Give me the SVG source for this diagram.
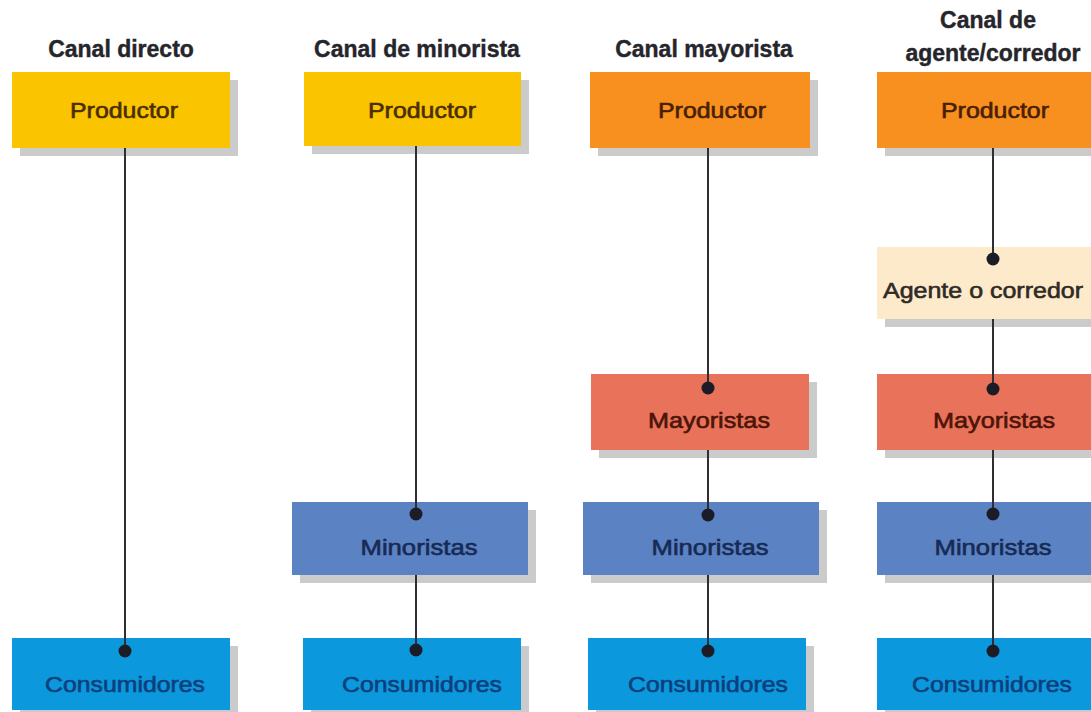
<svg xmlns="http://www.w3.org/2000/svg" width="1091" height="712" viewBox="0 0 1091 712">
  <style>
    .title { font-family: "Liberation Sans", Arial, sans-serif; font-size: 23px; font-weight: bold; fill: #25252b; stroke: #25252b; stroke-width: 0.4; text-anchor: middle; }
    .lbl { font-family: "Liberation Sans", Arial, sans-serif; font-size: 22px; text-anchor: middle; stroke-width: 0.6; }
    .shadow { fill: #cbcbcb; }
    .prodY { fill: #fbc400; }
    .prodO { fill: #f7901e; }
    .agente { fill: #fdeacb; }
    .mayor { fill: #e9735a; }
    .minor { fill: #5b82c2; }
    .cons { fill: #0b98dc; }
    .tProd { fill: #4a2e00; stroke: #4a2e00; }
    .tProdO { fill: #4a1e05; stroke: #4a1e05; }
    .tAg { fill: #2f2a25; stroke: #2f2a25; }
    .tMay { fill: #4d1408; stroke: #4d1408; }
    .tMin { fill: #172a55; stroke: #172a55; }
    .tCon { fill: #0c3f7c; stroke: #0c3f7c; }
    .conn line { stroke: #2e2e33; stroke-width: 2; }
    .conn circle { fill: #1c1c26; }
  </style>
  <rect width="1091" height="712" fill="#ffffff"/>

  <g id="titles">
    <text class="title" x="121" y="57">Canal directo</text>
    <text class="title" x="417" y="57">Canal de minorista</text>
    <text class="title" x="704" y="57">Canal mayorista</text>
    <text class="title" x="988" y="28">Canal de</text>
    <text class="title" x="993" y="61">agente/corredor</text>
  </g>

  <!-- Column 1 -->
  <g id="c1-productor">
    <rect class="shadow" x="20" y="80" width="218" height="76"/>
    <rect class="prodY" x="12" y="72" width="218" height="76"/>
    <text class="lbl tProd" x="124" y="118" textLength="108" lengthAdjust="spacingAndGlyphs">Productor</text>
  </g>
  <g id="c1-consumidores">
    <rect class="shadow" x="20" y="646" width="218" height="72"/>
    <rect class="cons" x="12" y="638" width="218" height="72"/>
    <text class="lbl tCon" x="125" y="692" textLength="160" lengthAdjust="spacingAndGlyphs">Consumidores</text>
  </g>

  <!-- Column 2 -->
  <g id="c2-productor">
    <rect class="shadow" x="312" y="80" width="217" height="74"/>
    <rect class="prodY" x="304" y="72" width="217" height="74"/>
    <text class="lbl tProd" x="422" y="118" textLength="108" lengthAdjust="spacingAndGlyphs">Productor</text>
  </g>
  <g id="c2-minoristas">
    <rect class="shadow" x="300" y="510" width="236" height="73"/>
    <rect class="minor" x="292" y="502" width="236" height="73"/>
    <text class="lbl tMin" x="419" y="555" textLength="117" lengthAdjust="spacingAndGlyphs">Minoristas</text>
  </g>
  <g id="c2-consumidores">
    <rect class="shadow" x="311" y="646" width="218" height="72"/>
    <rect class="cons" x="303" y="638" width="218" height="72"/>
    <text class="lbl tCon" x="422" y="692" textLength="160" lengthAdjust="spacingAndGlyphs">Consumidores</text>
  </g>

  <!-- Column 3 -->
  <g id="c3-productor">
    <rect class="shadow" x="598" y="80" width="220" height="76"/>
    <rect class="prodO" x="590" y="72" width="220" height="76"/>
    <text class="lbl tProdO" x="712" y="118" textLength="108" lengthAdjust="spacingAndGlyphs">Productor</text>
  </g>
  <g id="c3-mayoristas">
    <rect class="shadow" x="599" y="382" width="218" height="76"/>
    <rect class="mayor" x="591" y="374" width="218" height="76"/>
    <text class="lbl tMay" x="709" y="428" textLength="122" lengthAdjust="spacingAndGlyphs">Mayoristas</text>
  </g>
  <g id="c3-minoristas">
    <rect class="shadow" x="591" y="510" width="236" height="73"/>
    <rect class="minor" x="583" y="502" width="236" height="73"/>
    <text class="lbl tMin" x="710" y="555" textLength="117" lengthAdjust="spacingAndGlyphs">Minoristas</text>
  </g>
  <g id="c3-consumidores">
    <rect class="shadow" x="596" y="646" width="218" height="72"/>
    <rect class="cons" x="588" y="638" width="218" height="72"/>
    <text class="lbl tCon" x="708" y="692" textLength="160" lengthAdjust="spacingAndGlyphs">Consumidores</text>
  </g>

  <!-- Column 4 -->
  <g id="c4-productor">
    <rect class="shadow" x="885" y="80" width="220" height="76"/>
    <rect class="prodO" x="877" y="72" width="220" height="76"/>
    <text class="lbl tProdO" x="995" y="118" textLength="108" lengthAdjust="spacingAndGlyphs">Productor</text>
  </g>
  <g id="c4-agente">
    <rect class="shadow" x="885" y="255" width="220" height="72"/>
    <rect class="agente" x="877" y="247" width="220" height="72"/>
    <text class="lbl tAg" x="983" y="298" textLength="200" lengthAdjust="spacingAndGlyphs">Agente o corredor</text>
  </g>
  <g id="c4-mayoristas">
    <rect class="shadow" x="885" y="382" width="220" height="76"/>
    <rect class="mayor" x="877" y="374" width="220" height="76"/>
    <text class="lbl tMay" x="994" y="428" textLength="122" lengthAdjust="spacingAndGlyphs">Mayoristas</text>
  </g>
  <g id="c4-minoristas">
    <rect class="shadow" x="885" y="510" width="220" height="73"/>
    <rect class="minor" x="877" y="502" width="220" height="73"/>
    <text class="lbl tMin" x="993" y="555" textLength="117" lengthAdjust="spacingAndGlyphs">Minoristas</text>
  </g>
  <g id="c4-consumidores">
    <rect class="shadow" x="885" y="646" width="220" height="72"/>
    <rect class="cons" x="877" y="638" width="220" height="72"/>
    <text class="lbl tCon" x="992" y="692" textLength="160" lengthAdjust="spacingAndGlyphs">Consumidores</text>
  </g>

  <g id="connectors" class="conn">
    <line x1="125" y1="148" x2="125" y2="651"/>
    <circle cx="125" cy="651" r="6.5"/>

    <line x1="416" y1="146" x2="416" y2="514"/>
    <circle cx="416" cy="514" r="6.5"/>
    <line x1="416" y1="575" x2="416" y2="650"/>
    <circle cx="416" cy="650" r="6.5"/>

    <line x1="708" y1="148" x2="708" y2="388"/>
    <circle cx="708" cy="388" r="6.5"/>
    <line x1="708" y1="450" x2="708" y2="515"/>
    <circle cx="708" cy="515" r="6.5"/>
    <line x1="708" y1="575" x2="708" y2="651"/>
    <circle cx="708" cy="651" r="6.5"/>

    <line x1="993" y1="148" x2="993" y2="259"/>
    <circle cx="993" cy="259" r="6.5"/>
    <line x1="993" y1="319" x2="993" y2="389"/>
    <circle cx="993" cy="389" r="6.5"/>
    <line x1="993" y1="450" x2="993" y2="514"/>
    <circle cx="993" cy="514" r="6.5"/>
    <line x1="993" y1="575" x2="993" y2="651"/>
    <circle cx="993" cy="651" r="6.5"/>
  </g>
</svg>
